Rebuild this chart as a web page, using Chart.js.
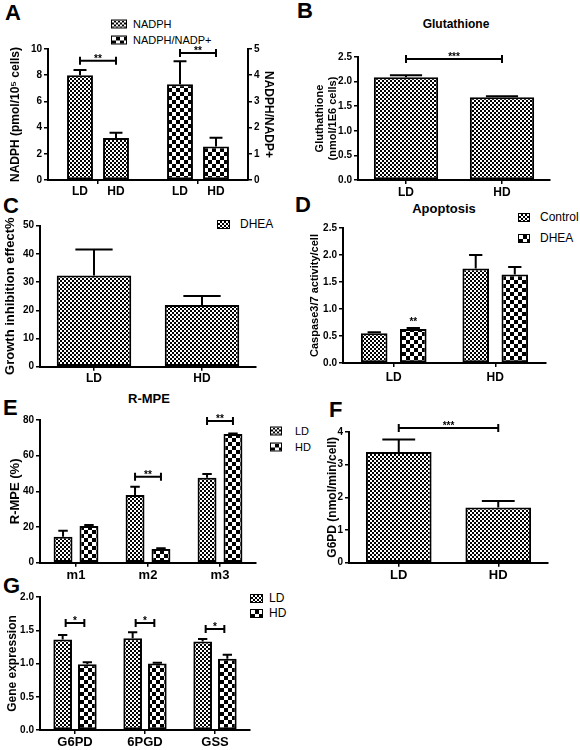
<!DOCTYPE html>
<html>
<head>
<meta charset="utf-8">
<script src="https://cdn.jsdelivr.net/npm/chart.js@4.4.1/dist/chart.umd.min.js"></script>
<style>
  body { margin: 0; background: #fff; }
  #fig { position: relative; width: 580px; height: 750px; font-family: "Liberation Sans", Arial, sans-serif; color: #000; overflow: hidden; }
  #fig canvas { position: absolute; }
  .letter { position: absolute; font-weight: bold; font-size: 22px; line-height: 1; }
  .ptitle { position: absolute; font-weight: bold; line-height: 1; white-space: nowrap; transform: translateX(-50%); }
  .leg { position: absolute; display: flex; align-items: center; line-height: 1; white-space: nowrap; transform: translateY(-50%); }
  .leg i { display: inline-block; box-sizing: border-box; border: 1.5px solid #000; flex: none; }
  .fine { background: repeating-conic-gradient(#000 0 25%, #fff 0 50%) 0 0 / 4px 4px; }
  .coarse { background: repeating-conic-gradient(#000 0 25%, #fff 0 50%) 0 0 / 8px 8px; }
</style>
</head>
<body>
<div id="fig">
  <div class="letter" style="left:5px;top:2px">A</div>
  <div class="letter" style="left:297px;top:0px">B</div>
  <div class="letter" style="left:3px;top:195px">C</div>
  <div class="letter" style="left:295px;top:194px">D</div>
  <div class="letter" style="left:3px;top:397px">E</div>
  <div class="letter" style="left:329px;top:399px">F</div>
  <div class="letter" style="left:3px;top:575px">G</div>

  <div class="ptitle" style="left:456px;top:18px;font-size:12px">Glutathione</div>
  <div class="ptitle" style="left:444px;top:202px;font-size:13px">Apoptosis</div>
  <div class="ptitle" style="left:149px;top:392px;font-size:13px">R-MPE</div>

  <div class="leg" style="left:111px;top:24px;font-size:11px"><i class="fine" style="width:16px;height:9px;margin-right:6px"></i>NADPH</div>
  <div class="leg" style="left:111px;top:40px;font-size:11px"><i class="coarse" style="width:16px;height:9px;margin-right:6px"></i>NADPH/NADP+</div>
  <div class="leg" style="left:217px;top:224px;font-size:12px"><i class="fine" style="width:13px;height:9px;margin-right:10px"></i>DHEA</div>
  <div class="leg" style="left:518px;top:217px;font-size:12px"><i class="fine" style="width:12px;height:9px;margin-right:10px"></i>Control</div>
  <div class="leg" style="left:518px;top:238px;font-size:12px"><i class="coarse" style="width:12px;height:9px;margin-right:10px"></i>DHEA</div>
  <div class="leg" style="left:270px;top:431px;font-size:11px"><i class="fine" style="width:12px;height:9px;margin-right:13px"></i>LD</div>
  <div class="leg" style="left:270px;top:447px;font-size:11px"><i class="coarse" style="width:12px;height:9px;margin-right:13px"></i>HD</div>
  <div class="leg" style="left:250px;top:598px;font-size:12px"><i class="fine" style="width:13px;height:9px;margin-right:6px"></i>LD</div>
  <div class="leg" style="left:250px;top:613px;font-size:12px"><i class="coarse" style="width:13px;height:9px;margin-right:6px"></i>HD</div>
</div>
<script>
const FONT = '"Liberation Sans", Arial, sans-serif';

// A - NADPH and NADPH/NADP+
const nadphGroups = ['NADPH', 'NADPH/NADP+'];
const doseLabels = ['LD', 'HD'];
const nadphValues = [8.0, 3.2];
const nadphErrors = [0.4, 0.4];
const ratioValues = [3.65, 1.28];
const ratioErrors = [0.88, 0.33];

// B - glutathione
const glutathioneValues = [2.09, 1.68];
const glutathioneErrors = [0.04, 0.02];

// C - growth inhibition
const growthValues = [32.3, 21.9];
const growthErrors = [9.3, 3.2];

// D - apoptosis
const apoptosisControl = [0.55, 1.75];
const apoptosisControlErr = [0.02, 0.25];
const apoptosisDhea = [0.63, 1.64];
const apoptosisDheaErr = [0.02, 0.14];

// E - R-MPE
const rmpeLabels = ['m1', 'm2', 'm3'];
const rmpeLD = [14.6, 37.9, 47.6];
const rmpeLDErr = [3.3, 4.7, 2.1];
const rmpeHD = [20.6, 7.7, 72.1];
const rmpeHDErr = [0.5, 0.4, 0.4];

// F - G6PD activity
const g6pdValues = [3.39, 1.69];
const g6pdErrors = [0.38, 0.2];

// G - gene expression
const geneLabels = ['G6PD', '6PGD', 'GSS'];
const geneLD = [1.36, 1.38, 1.33];
const geneLDErr = [0.07, 0.09, 0.04];
const geneHD = [0.99, 1.0, 1.07];
const geneHDErr = [0.03, 0.01, 0.06];

function checker(cell) {
  const c = document.createElement('canvas');
  c.width = c.height = cell * 2;
  const g = c.getContext('2d');
  g.fillStyle = '#fff';
  g.fillRect(0, 0, cell * 2, cell * 2);
  g.fillStyle = '#000';
  g.fillRect(0, 0, cell, cell);
  g.fillRect(cell, cell, cell, cell);
  return g.createPattern(c, 'repeat');
}
const fine = checker(2);
const coarse = checker(4);

function makeCanvas(left, top, w, h) {
  const c = document.createElement('canvas');
  c.width = w;
  c.height = h;
  c.style.left = left + 'px';
  c.style.top = top + 'px';
  document.getElementById('fig').appendChild(c);
  return c;
}

// error bars, significance brackets and small labels
function extras(spec) {
  return {
    id: 'extras',
    afterDatasetsDraw(chart) {
      const ctx = chart.ctx;
      ctx.save();
      ctx.strokeStyle = '#000';
      ctx.fillStyle = '#000';
      ctx.lineWidth = 2;
      chart.data.datasets.forEach((ds, i) => {
        if (!ds.errors) return;
        const meta = chart.getDatasetMeta(i);
        const yScale = chart.scales[meta.yAxisID];
        meta.data.forEach((bar, j) => {
          const v = ds.data[j], e = ds.errors[j];
          if (v == null || e == null) return;
          const yTop = yScale.getPixelForValue(v + e);
          const half = bar.width / 4;
          ctx.beginPath();
          ctx.moveTo(bar.x, bar.y);
          ctx.lineTo(bar.x, yTop);
          ctx.moveTo(bar.x - half, yTop);
          ctx.lineTo(bar.x + half, yTop);
          ctx.stroke();
        });
      });
      ctx.font = 'bold 10px ' + FONT;
      ctx.textAlign = 'center';
      ctx.textBaseline = 'alphabetic';
      (spec.brackets || []).forEach(b => {
        const p1 = chart.getDatasetMeta(b.from[0]).data[b.from[1]];
        const p2 = chart.getDatasetMeta(b.to[0]).data[b.to[1]];
        const y = chart.scales[b.axis || 'y'].getPixelForValue(b.y);
        const inset = b.inset || 0;
        const x1 = p1.x + inset, x2 = p2.x - inset;
        ctx.beginPath();
        ctx.moveTo(x1, y); ctx.lineTo(x2, y);
        ctx.moveTo(x1, y - 4); ctx.lineTo(x1, y + 4);
        ctx.moveTo(x2, y - 4); ctx.lineTo(x2, y + 4);
        ctx.stroke();
        ctx.fillText(b.text, (x1 + x2) / 2, y + 1);
      });
      (spec.stars || []).forEach(s => {
        const p = chart.getDatasetMeta(s.at[0]).data[s.at[1]];
        const y = chart.scales[s.axis || 'y'].getPixelForValue(s.y);
        ctx.fillText(s.text, p.x, y + 5);
      });
      if (spec.barLabels) {
        ctx.font = 'bold 12px ' + FONT;
        ctx.textBaseline = 'middle';
        chart.data.datasets.forEach((ds, i) => {
          const meta = chart.getDatasetMeta(i);
          meta.data.forEach((bar, j) => {
            if (ds.data[j] == null) return;
            ctx.fillText(spec.barLabels[i], bar.x, chart.chartArea.bottom + spec.labelOffset);
          });
        });
      }
      ctx.restore();
    }
  };
}

function valueAxis(o) {
  const ticks = { stepSize: o.step, color: '#000', padding: 2, font: { family: FONT, weight: 'bold', size: 10 } };
  if (o.decimals) ticks.callback = v => v.toFixed(o.decimals);
  return {
    position: o.position || 'left',
    min: o.min,
    max: o.max,
    afterFit: s => { s.width = o.width; },
    border: { color: '#000', width: 2 },
    grid: { drawOnChartArea: false, color: '#000', lineWidth: 1.5, tickLength: 4 },
    ticks,
    title: {
      display: true, text: o.title, color: '#000',
      font: { family: FONT, weight: 'bold', size: o.size || 12 },
      padding: { top: o.pad, bottom: 0 }
    }
  };
}

function categoryAxis(o) {
  return {
    afterFit: s => { s.height = o.height; },
    border: { color: '#000', width: 2 },
    grid: { offset: false, drawOnChartArea: false, color: '#000', lineWidth: 1.5, tickLength: 4 },
    ticks: { display: o.show !== false, color: '#000', padding: o.pad || 1, font: { family: FONT, weight: 'bold', size: o.size || 12 } }
  };
}

function barSet(label, data, errors, pattern, bp, cp, axis) {
  return {
    label, data, errors,
    yAxisID: axis || 'y',
    backgroundColor: pattern,
    borderColor: '#000',
    borderWidth: 2,
    borderSkipped: false,
    barPercentage: bp,
    categoryPercentage: cp,
    skipNull: true
  };
}

function baseOptions(padding, scales) {
  return {
    responsive: false,
    animation: false,
    layout: { padding },
    plugins: { legend: { display: false }, tooltip: { enabled: false } },
    scales
  };
}

// A
new Chart(makeCanvas(0, 0, 290, 200), {
  type: 'bar',
  data: {
    labels: nadphGroups,
    datasets: [
      barSet('NADPH LD', [nadphValues[0], null], [nadphErrors[0], null], fine, 0.72, 0.72, 'y'),
      barSet('NADPH HD', [nadphValues[1], null], [nadphErrors[1], null], fine, 0.72, 0.72, 'y'),
      barSet('NADPH/NADP+ LD', [null, ratioValues[0]], [null, ratioErrors[0]], coarse, 0.72, 0.72, 'y1'),
      barSet('NADPH/NADP+ HD', [null, ratioValues[1]], [null, ratioErrors[1]], coarse, 0.72, 0.72, 'y1')
    ]
  },
  options: baseOptions({ left: 0, top: 49, right: 0, bottom: 0 }, {
    x: categoryAxis({ height: 20, show: false }),
    y: valueAxis({ min: 0, max: 10, step: 2, width: 48, title: 'NADPH (pmol/10\u2075 cells)', pad: 8 }),
    y1: valueAxis({ position: 'right', min: 0, max: 5, step: 1, width: 42, title: 'NADPH/NADP+', pad: 14.8 })
  }),
  plugins: [extras({
    brackets: [
      { from: [0, 0], to: [1, 0], y: 9.1, text: '**' },
      { from: [2, 1], to: [3, 1], y: 4.85, axis: 'y1', text: '**' }
    ],
    barLabels: [doseLabels[0], doseLabels[1], doseLabels[0], doseLabels[1]],
    labelOffset: 12
  })]
});

// B
new Chart(makeCanvas(290, 0, 290, 200), {
  type: 'bar',
  data: {
    labels: doseLabels,
    datasets: [barSet('Glutathione', glutathioneValues, glutathioneErrors, fine, 0.67, 1)]
  },
  options: baseOptions({ left: 0, top: 57, right: 30, bottom: 0 }, {
    x: categoryAxis({ height: 20 }),
    y: valueAxis({ min: 0, max: 2.5, step: 0.5, decimals: 1, width: 68, title: ['Gluthathione', '(nmol/1E6 cells)'], size: 11, pad: 23.4 })
  }),
  plugins: [extras({ brackets: [{ from: [0, 0], to: [0, 1], y: 2.46, text: '***' }] })]
});

// C
new Chart(makeCanvas(0, 200, 290, 190), {
  type: 'bar',
  data: {
    labels: doseLabels,
    datasets: [barSet('DHEA', growthValues, growthErrors, fine, 0.69, 1)]
  },
  options: baseOptions({ left: 0, top: 25.7, right: 34, bottom: 0 }, {
    x: categoryAxis({ height: 23.3 }),
    y: valueAxis({ min: 0, max: 50, step: 10, width: 40, title: 'Growth inhibition effect%', size: 13, pad: 2.2 })
  }),
  plugins: [extras({})]
});

// D
new Chart(makeCanvas(290, 200, 290, 190), {
  type: 'bar',
  data: {
    labels: doseLabels,
    datasets: [
      barSet('Control', apoptosisControl, apoptosisControlErr, fine, 0.68, 0.77),
      barSet('DHEA', apoptosisDhea, apoptosisDheaErr, coarse, 0.68, 0.77)
    ]
  },
  options: baseOptions({ left: 0, top: 28, right: 34, bottom: 0 }, {
    x: categoryAxis({ height: 27, pad: 3 }),
    y: valueAxis({ min: 0, max: 2.5, step: 0.5, decimals: 1, width: 53, title: 'Caspase3/7 activity/cell', size: 11, pad: 18.4 })
  }),
  plugins: [extras({ stars: [{ at: [1, 0], y: 0.8, text: '**' }] })]
});

// E
new Chart(makeCanvas(0, 390, 290, 190), {
  type: 'bar',
  data: {
    labels: rmpeLabels,
    datasets: [
      barSet('LD', rmpeLD, rmpeLDErr, fine, 0.73, 0.72),
      barSet('HD', rmpeHD, rmpeHDErr, coarse, 0.73, 0.72)
    ]
  },
  options: baseOptions({ left: 0, top: 30, right: 34, bottom: 0 }, {
    x: categoryAxis({ height: 17.3, size: 13 }),
    y: valueAxis({ min: 0, max: 80, step: 20, width: 40, title: 'R-MPE (%)', size: 13, pad: 7.2 })
  }),
  plugins: [extras({
    brackets: [
      { from: [0, 1], to: [1, 1], y: 48.2, text: '**' },
      { from: [0, 2], to: [1, 2], y: 79.4, text: '**' }
    ]
  })]
});

// F
new Chart(makeCanvas(290, 390, 290, 190), {
  type: 'bar',
  data: {
    labels: doseLabels,
    datasets: [barSet('G6PD', g6pdValues, g6pdErrors, fine, 0.66, 1)]
  },
  options: baseOptions({ left: 0, top: 42, right: 32, bottom: 0 }, {
    x: categoryAxis({ height: 17.3, size: 13 }),
    y: valueAxis({ min: 0, max: 4, step: 1, width: 59, title: 'G6PD (nmol/min/cell)', pad: 35.8 })
  }),
  plugins: [extras({ brackets: [{ from: [0, 0], to: [0, 1], y: 4.12, text: '***' }] })]
});

// G
new Chart(makeCanvas(0, 580, 290, 170), {
  type: 'bar',
  data: {
    labels: geneLabels,
    datasets: [
      barSet('LD', geneLD, geneLDErr, fine, 0.755, 0.705),
      barSet('HD', geneHD, geneHDErr, coarse, 0.755, 0.705)
    ]
  },
  options: baseOptions({ left: 0, top: 17, right: 40, bottom: 0 }, {
    x: categoryAxis({ height: 20, size: 13 }),
    y: valueAxis({ min: 0, max: 2, step: 0.5, decimals: 1, width: 40, title: 'Gene expression', pad: 5.8 })
  }),
  plugins: [extras({
    brackets: [
      { from: [0, 0], to: [1, 0], y: 1.61, text: '*', inset: 3 },
      { from: [0, 1], to: [1, 1], y: 1.61, text: '*', inset: 3 },
      { from: [0, 2], to: [1, 2], y: 1.52, text: '*', inset: 3 }
    ]
  })]
});
</script>
</body>
</html>
